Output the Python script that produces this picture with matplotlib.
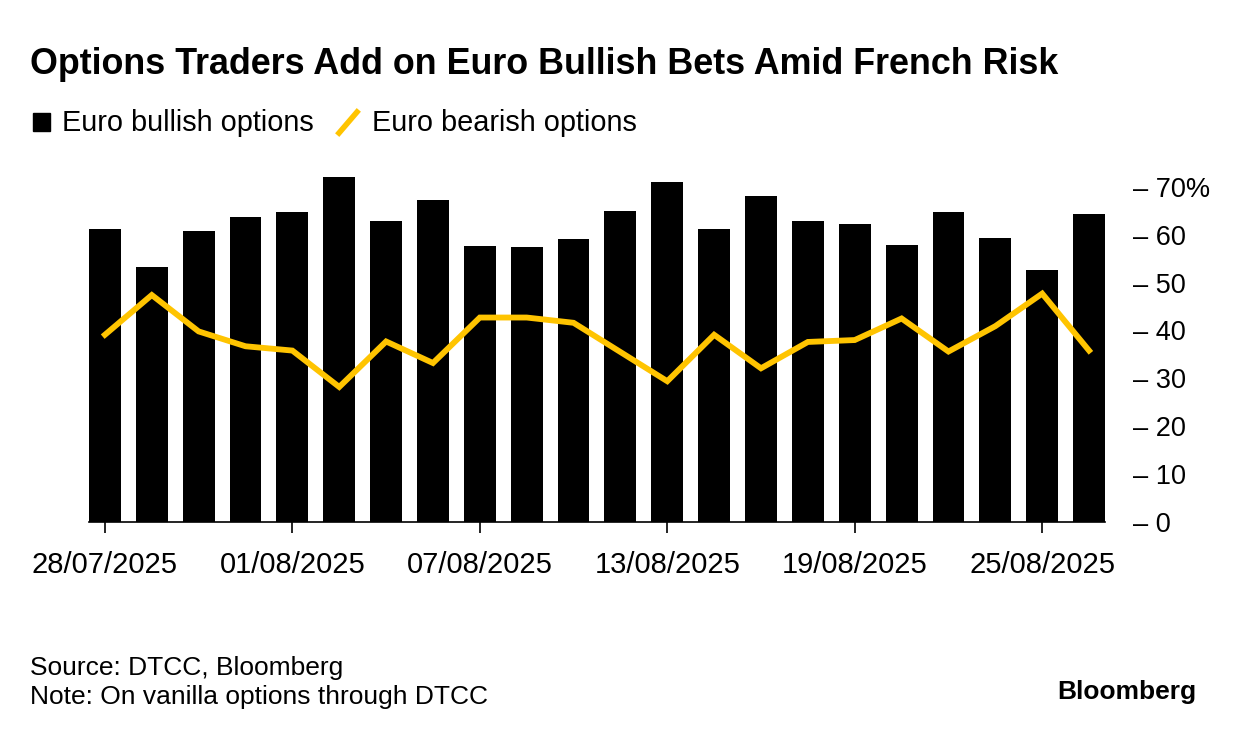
import matplotlib.pyplot as plt
from matplotlib.lines import Line2D
from matplotlib.patches import Rectangle

plt.rcParams['font.family'] = ['Liberation Sans', 'DejaVu Sans']

# business days 28/07/2025 .. 26/08/2025
dates = ["28/07/2025", "29/07/2025", "30/07/2025", "31/07/2025", "01/08/2025",
         "04/08/2025", "05/08/2025", "06/08/2025", "07/08/2025", "08/08/2025",
         "11/08/2025", "12/08/2025", "13/08/2025", "14/08/2025", "15/08/2025",
         "18/08/2025", "19/08/2025", "20/08/2025", "21/08/2025", "22/08/2025",
         "25/08/2025", "26/08/2025"]
bullish = [61.2, 53.2, 60.7, 63.6, 64.7, 72.1, 62.8, 67.2, 57.7, 57.5, 59.0,
           64.9, 71.0, 61.2, 68.0, 62.8, 62.3, 57.9, 64.7, 59.3, 52.6, 64.3]
bearish = [39.1, 47.4, 39.8, 36.7, 35.8, 28.2, 37.7, 33.2, 42.7, 42.7, 41.6,
           35.5, 29.4, 39.1, 32.1, 37.6, 38.0, 42.5, 35.6, 40.9, 47.7, 35.8]
yticks = [0, 10, 20, 30, 40, 50, 60, 70]
shown = [0, 4, 8, 12, 16, 20]

yellow = "#FFC400"

fig = plt.figure(figsize=(12.36, 7.38), dpi=100)
ax = fig.add_axes([0.072, 0.2927, 0.822, 0.4866])

x = list(range(len(dates)))
ax.bar(x, bullish, width=0.68, color="black", zorder=2)
ax.plot(x, bearish, color=yellow, lw=4.2, solid_joinstyle="miter", zorder=3)

ax.set_xlim(-0.34, len(dates) - 1 + 0.34)
ax.set_ylim(0, 75)

for s in ["top", "left", "right"]:
    ax.spines[s].set_visible(False)
ax.spines["bottom"].set_linewidth(1.2)

ax.set_xticks(shown)
ax.set_xticklabels([dates[i] for i in shown], fontsize=21)
ax.tick_params(axis="x", length=8, width=1.2, pad=13)

ax.yaxis.tick_right()
ax.set_yticks(yticks)
ax.set_yticklabels(["– " + str(v) + ("%" if v == 70 else "") for v in yticks], fontsize=19.5)
ax.tick_params(axis="y", length=0, pad=20)

fig.text(0.024, 0.913, "Options Traders Add on Euro Bullish Bets Amid French Risk",
         fontsize=25.8, fontweight="bold", va="center")

# legend
fig.add_artist(Rectangle((33 / 1236, 1 - 131 / 738), 17 / 1236, 18 / 738,
                         transform=fig.transFigure, color="black"))
fig.text(62 / 1236, 1 - 123 / 738, "Euro bullish options", fontsize=20.8, va="center")
fig.add_artist(Line2D([339 / 1236, 357 / 1236], [1 - 133 / 738, 1 - 112 / 738],
                      transform=fig.transFigure, color=yellow, lw=4))
fig.text(372 / 1236, 1 - 123 / 738, "Euro bearish options", fontsize=20.8, va="center")

fig.text(0.024, 1 - 668 / 738, "Source: DTCC, Bloomberg", fontsize=19, va="center")
fig.text(0.024, 1 - 697 / 738, "Note: On vanilla options through DTCC", fontsize=19, va="center")
fig.text(1196 / 1236, 1 - 692 / 738, "Bloomberg", fontsize=19, fontweight="bold",
         va="center", ha="right")

fig.savefig("out.png", dpi=100)
